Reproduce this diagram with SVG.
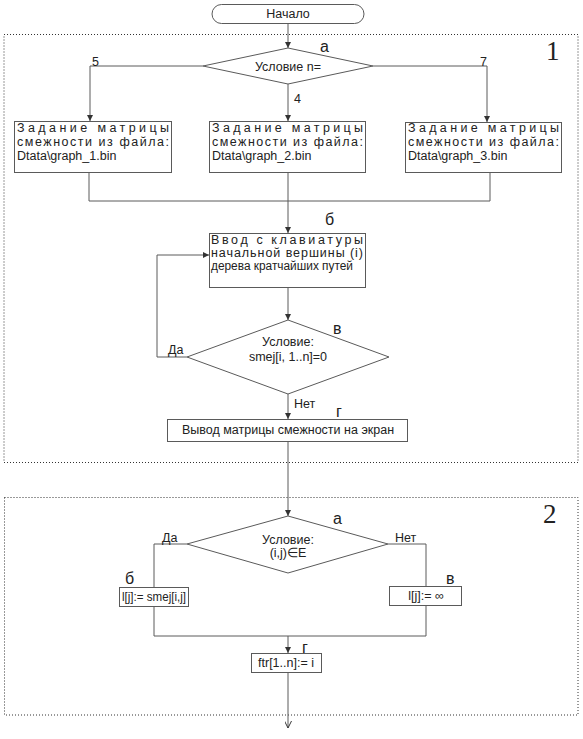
<svg xmlns="http://www.w3.org/2000/svg" width="583" height="739" viewBox="0 0 583 739">
<style>
.bg{fill:#fff}
.shape{fill:#fff;stroke:#5a5a5a;stroke-width:1}
.frame{fill:none;stroke:#333;stroke-width:1;stroke-dasharray:1 2}
.conn{fill:none;stroke:#5a5a5a;stroke-width:1}
text{font-family:"Liberation Sans",Arial,sans-serif;fill:#222}
.t{font-size:12.5px}
.c{text-anchor:middle}
.lbl{font-size:16px}
.big{font-family:"Liberation Serif","Times New Roman",serif;font-size:27px}
</style>
<defs>
<marker id="ah" viewBox="0 0 10 10" refX="10" refY="5" markerWidth="6" markerHeight="6" markerUnits="userSpaceOnUse" orient="auto">
<path d="M0,0 L10,5 L0,10 z" fill="#333"/>
</marker>
<marker id="oa" viewBox="0 0 10 10" refX="10" refY="5" markerWidth="7" markerHeight="7" markerUnits="userSpaceOnUse" orient="auto">
<path d="M0,0 L10,5 L0,10" fill="none" stroke="#333" stroke-width="1.4"/>
</marker>
</defs>
<rect class="bg" x="0" y="0" width="583" height="739"/>

<g id="frames">
<rect class="frame" x="4" y="34.5" width="574" height="428"/>
<rect class="frame" x="4.5" y="497.5" width="573.5" height="217.5"/>
<text class="big" x="546" y="60">1</text>
<text class="big" x="543" y="523">2</text>
</g>

<g id="connectors">
<path class="conn" d="M288,23 V48" marker-end="url(#ah)"/>
<path class="conn" d="M203,66 H90 V121" marker-end="url(#ah)"/>
<path class="conn" d="M288,84 V121" marker-end="url(#ah)"/>
<path class="conn" d="M373,66 H487 V122" marker-end="url(#ah)"/>
<path class="conn" d="M89,173 V201 H490 V173"/>
<path class="conn" d="M288,173 V233" marker-end="url(#ah)"/>
<path class="conn" d="M288,288 V320" marker-end="url(#ah)"/>
<path class="conn" d="M187,357 H157 V255 H209" marker-end="url(#ah)"/>
<path class="conn" d="M288,394 V419" marker-end="url(#ah)"/>
<path class="conn" d="M288,442 V516" marker-end="url(#ah)"/>
<path class="conn" d="M187,544 H154 V587"/>
<path class="conn" d="M388,544 H426 V586"/>
<path class="conn" d="M154,607 V636 H426 V606"/>
<path class="conn" d="M288,636 V653" marker-end="url(#ah)"/>
<path class="conn" d="M288,673 V728" marker-end="url(#oa)"/>
<text class="t" x="92" y="66">5</text>
<text class="t" x="480" y="66">7</text>
<text class="t" x="294" y="103">4</text>
<text class="t" x="168" y="354">Да</text>
<text class="t" x="294" y="408">Нет</text>
<text class="t" x="162" y="542">Да</text>
<text class="t" x="395" y="542">Нет</text>
</g>

<g id="start">
<rect class="shape" x="212" y="4.5" width="152" height="19" rx="9.5"/>
<text class="t c" x="288" y="18">Начало</text>
</g>

<g id="cond_n">
<polygon class="shape" points="288,48 373,66 288,84 203,66"/>
<text class="t c" x="288" y="71">Условие n=</text>
<text class="lbl" x="320" y="52">а</text>
</g>

<g id="load1">
<rect class="shape" x="14.5" y="121.5" width="157" height="51"/>
<text class="t" x="17" y="132" textLength="152" lengthAdjust="spacing">Задание матрицы</text>
<text class="t" x="17" y="146" textLength="152" lengthAdjust="spacing">смежности из файла:</text>
<text class="t" x="17" y="160">Dtata\graph_1.bin</text>
</g>

<g id="load2">
<rect class="shape" x="209.5" y="121.5" width="156" height="51"/>
<text class="t" x="212" y="132" textLength="151" lengthAdjust="spacing">Задание матрицы</text>
<text class="t" x="212" y="146" textLength="151" lengthAdjust="spacing">смежности из файла:</text>
<text class="t" x="212" y="160">Dtata\graph_2.bin</text>
</g>

<g id="load3">
<rect class="shape" x="405.5" y="122.5" width="156" height="50"/>
<text class="t" x="408" y="132" textLength="151" lengthAdjust="spacing">Задание матрицы</text>
<text class="t" x="408" y="146" textLength="151" lengthAdjust="spacing">смежности из файла:</text>
<text class="t" x="408" y="160">Dtata\graph_3.bin</text>
</g>

<g id="input">
<rect class="shape" x="209.5" y="233.5" width="156" height="54"/>
<text class="t" x="211" y="244" textLength="152" lengthAdjust="spacing">Ввод с клавиатуры</text>
<text class="t" x="211" y="257" textLength="152" lengthAdjust="spacing">начальной вершины (i)</text>
<text class="t" x="211" y="270" textLength="142" lengthAdjust="spacingAndGlyphs">дерева кратчайших путей</text>
<text class="lbl" x="325" y="225">б</text>
</g>

<g id="cond_smej">
<polygon class="shape" points="288,320 389,357 288,394 187,357"/>
<text class="t c" x="288" y="346">Условие:</text>
<text class="t c" x="288" y="361">smej[i, 1..n]=0</text>
<text class="lbl" x="333" y="334">в</text>
</g>

<g id="output">
<rect class="shape" x="167.5" y="419.5" width="240" height="22"/>
<text class="t c" x="288" y="434">Вывод матрицы смежности на экран</text>
<text class="lbl" x="336" y="417">г</text>
</g>

<g id="cond_e">
<polygon class="shape" points="288,516 388,544 288,573 187,544"/>
<text class="t c" x="288" y="544">Условие:</text>
<text class="t c" x="288" y="557">(i,j)∈E</text>
<text class="lbl" x="333" y="524">а</text>
</g>

<g id="set_smej">
<rect class="shape" x="119.5" y="587.5" width="69" height="19"/>
<text class="t c" x="154" y="601" textLength="64" lengthAdjust="spacingAndGlyphs">l[j]:= smej[i,j]</text>
<text class="lbl" x="125" y="584">б</text>
</g>

<g id="set_inf">
<rect class="shape" x="389.5" y="586.5" width="72" height="19"/>
<text class="t c" x="426" y="600">l[j]:= ∞</text>
<text class="lbl" x="446" y="584">в</text>
</g>

<g id="ftr">
<rect class="shape" x="251.5" y="653.5" width="70" height="19"/>
<text class="t c" x="286" y="667">ftr[1..n]:= i</text>
<text class="lbl" x="302" y="653">г</text>
</g>
</svg>
